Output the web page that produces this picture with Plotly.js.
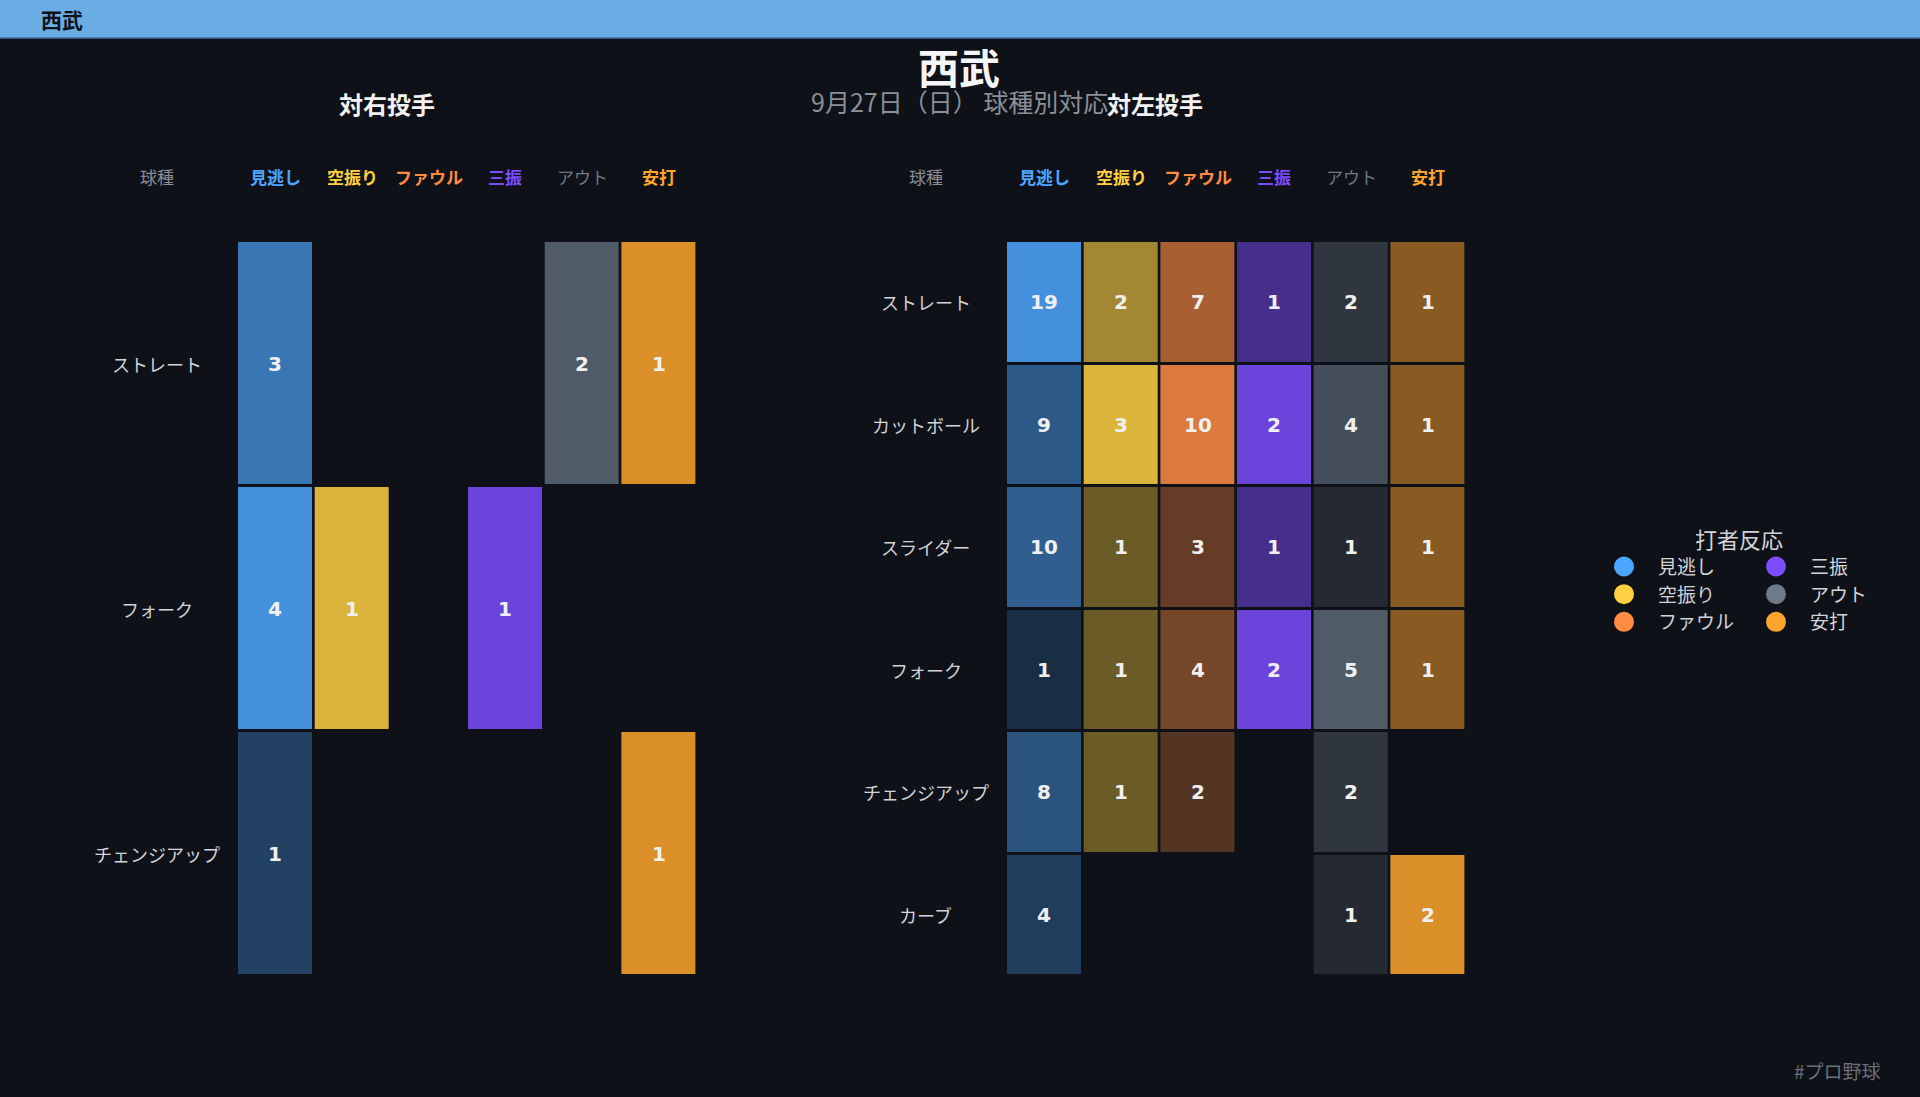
<!DOCTYPE html>
<html><head><meta charset="utf-8">
<script src="https://cdn.plot.ly/plotly-3.0.1.min.js"></script>
<style>html,body{margin:0;padding:0;background:#0e1117;overflow:hidden}#chart{width:1920px;height:1097px}</style>
</head><body><div id="chart"></div>
<script>
// ---------------- data ----------------
const teamName = '西武';
const subtitleText = '9月27日（日） 球種別対応';
const hashtag = '#プロ野球';
const legendTitle = '打者反応';
const pitchHeader = '球種';
const panelTitles = ['対右投手', '対左投手'];
const responses = ['見逃し', '空振り', 'ファウル', '三振', 'アウト', '安打'];

// 対右投手
const rhpPitches = ['ストレート', 'フォーク', 'チェンジアップ'];
const rhpMinogashi = [3, 4, 1];
const rhpKarafuri  = [null, 1, null];
const rhpFoul      = [null, null, null];
const rhpSanshin   = [null, 1, null];
const rhpOut       = [2, null, null];
const rhpHit       = [1, null, 1];

// 対左投手
const lhpPitches = ['ストレート', 'カットボール', 'スライダー', 'フォーク', 'チェンジアップ', 'カーブ'];
const lhpMinogashi = [19, 9, 10, 1, 8, 4];
const lhpKarafuri  = [2, 3, 1, 1, 1, null];
const lhpFoul      = [7, 10, 3, 4, 2, null];
const lhpSanshin   = [1, 2, 1, 2, null, null];
const lhpOut       = [2, 4, 1, 5, 2, 1];
const lhpHit       = [1, 1, 1, 1, null, 2];

// ---------------- styles ----------------
const BG = '#0e1117';
const respColors = ['#4da6ff', '#ffd142', '#ff8c42', '#7c4dff', '#6c7a89', '#ffa52b'];
const cellBase   = ['#4da6ff', '#ffd142', '#ff8c42', '#7c4dff', '#5c6876', '#ffa52b'];
const headerBold = [true, true, true, true, false, true];
const JP = '"Noto Sans CJK JP", "Noto Sans", sans-serif';

function hexRgb(h) { return [1, 3, 5].map(i => parseInt(h.substr(i, 2), 16)); }
function mix(hex, a) {
  const c = hexRgb(hex), b = hexRgb(BG);
  return 'rgb(' + c.map((v, i) => Math.round(a * v + (1 - a) * b[i])).join(',') + ')';
}

const panels = [
  { pitches: rhpPitches, cols: [rhpMinogashi, rhpKarafuri, rhpFoul, rhpSanshin, rhpOut, rhpHit], xa: 'x', ya: 'y' },
  { pitches: lhpPitches, cols: [lhpMinogashi, lhpKarafuri, lhpFoul, lhpSanshin, lhpOut, lhpHit], xa: 'x2', ya: 'y2' }
];

const traces = [];
const annotations = [];
const headerY = 1 - 176 / 1097;
const labelX = -1.55;

function ann(o) {
  return Object.assign({ showarrow: false, xanchor: 'center', yanchor: 'middle' }, o);
}

panels.forEach((p, pi) => {
  p.cols.forEach((vals, c) => {
    const nums = vals.filter(v => v !== null);
    if (!nums.length) return;
    const mx = Math.max(...nums);
    traces.push({
      type: 'heatmap', x0: c, dx: 1, y0: 0, dy: 1,
      z: vals.map(v => [v]), zmin: 0, zmax: mx,
      colorscale: [[0, mix(cellBase[c], 0.15)], [1, mix(cellBase[c], 0.85)]],
      showscale: false, xgap: 3, ygap: 3,
      texttemplate: '%{z}',
      textfont: { family: '"DejaVu Sans", sans-serif', size: 20, color: '#f0f0f0', weight: 'bold' },
      hoverinfo: 'skip', showlegend: false,
      xaxis: p.xa, yaxis: p.ya
    });
  });
  // headers
  annotations.push(ann({ xref: p.xa, yref: 'paper', x: labelX, y: headerY, text: pitchHeader,
    font: { family: JP, size: 17, color: '#8a8f98' } }));
  responses.forEach((r, c) => {
    annotations.push(ann({ xref: p.xa, yref: 'paper', x: c, y: headerY,
      text: headerBold[c] ? '<b>' + r + '</b>' : r,
      font: { family: JP, size: 17, color: respColors[c] } }));
  });
  // pitch labels
  p.pitches.forEach((name, i) => {
    annotations.push(ann({ xref: p.xa, yref: p.ya, x: labelX, y: i, text: name,
      font: { family: JP, size: 18, color: '#d2d4d8' } }));
  });
});

// legend dummy traces (column-major groups)
const legendGroups = ['g1', 'g1', 'g1', 'g2', 'g2', 'g2'];
responses.forEach((r, c) => {
  traces.push({
    type: 'scatter', mode: 'markers', x: [null], y: [null], name: r,
    legendgroup: legendGroups[c], showlegend: true,
    legendwidth: legendGroups[c] === 'g1' ? 79 : 73,
    marker: { color: respColors[c], size: 16, line: { color: respColors[c], width: 4 } },
    xaxis: 'x', yaxis: 'y', hoverinfo: 'skip'
  });
});

// panel titles, subtitle, corner texts
annotations.push(ann({ xref: 'paper', yref: 'paper', x: 387 / 1920, y: 1 - 103 / 1097, text: '<b>' + panelTitles[0] + '</b>',
  font: { family: JP, size: 24, color: '#f2f2f2' } }));
annotations.push(ann({ xref: 'paper', yref: 'paper', x: 959 / 1920, y: 1 - 101 / 1097, text: subtitleText,
  font: { family: JP, size: 25, color: '#8b8f96' } }));
annotations.push(ann({ xref: 'paper', yref: 'paper', x: 1155 / 1920, y: 1 - 103 / 1097, text: '<b>' + panelTitles[1] + '</b>',
  font: { family: JP, size: 24, color: '#f2f2f2' } }));
annotations.push(ann({ xref: 'paper', yref: 'paper', x: 39 / 1920, xanchor: 'left', y: 1 - 19 / 1097, text: '<b>' + teamName + '</b>',
  font: { family: JP, size: 21, color: '#0e1117' } }));
annotations.push(ann({ xref: 'paper', yref: 'paper', x: 1837 / 1920, y: 1 - 1070 / 1097, text: hashtag,
  font: { family: JP, size: 19, color: '#6b7078' } }));

const axisCommon = { showgrid: false, zeroline: false, showticklabels: false, ticks: '', showline: false, fixedrange: true };

const layout = {
  width: 1920, height: 1097,
  paper_bgcolor: BG, plot_bgcolor: BG,
  margin: { l: 0, r: 0, t: 0, b: 0, pad: 0 },
  font: { family: JP, color: '#d2d4d8' },
  title: { text: '<b>' + teamName + '</b>', x: 959 / 1920, xanchor: 'center', y: 1 - 70 / 1097, yanchor: 'middle',
    font: { family: JP, size: 41, color: '#f5f5f5' } },
  xaxis: Object.assign({}, axisCommon, { domain: [99 / 1920, 697 / 1920], range: [-2.3, 5.5], anchor: 'y' }),
  yaxis: Object.assign({}, axisCommon, { domain: [1 - 976 / 1097, 1 - 241 / 1097], range: [rhpPitches.length - 0.5, -0.5], anchor: 'x' }),
  xaxis2: Object.assign({}, axisCommon, { domain: [868 / 1920, 1466 / 1920], range: [-2.3, 5.5], anchor: 'y2' }),
  yaxis2: Object.assign({}, axisCommon, { domain: [1 - 976 / 1097, 1 - 241 / 1097], range: [lhpPitches.length - 0.5, -0.5], anchor: 'x2' }),
  showlegend: true,
  legend: {
    orientation: 'h', traceorder: 'grouped', x: 1590 / 1920, xanchor: 'left', y: 1 - 519 / 1097, yanchor: 'top',
    bgcolor: 'rgba(0,0,0,0)', itemwidth: 58, entrywidthmode: 'pixels', tracegroupgap: 0,
    font: { family: JP, size: 19, color: '#d2d4d8' },
    title: { text: legendTitle, side: 'top center', font: { family: JP, size: 22, color: '#d2d4d8' } }
  },
  shapes: [
    { type: 'rect', xref: 'paper', yref: 'paper', x0: 0, x1: 1, y0: 1 - 38 / 1097, y1: 1,
      fillcolor: '#6aade4', line: { width: 0 }, layer: 'below' },
    { type: 'line', xref: 'paper', yref: 'paper', x0: 0, x1: 1, y0: 1 - 38 / 1097, y1: 1 - 38 / 1097,
      line: { color: '#3f6f9a', width: 1.5 } }
  ],
  annotations: annotations
};

Plotly.newPlot('chart', traces, layout, { displayModeBar: false, staticPlot: true });
</script>
</body></html>
